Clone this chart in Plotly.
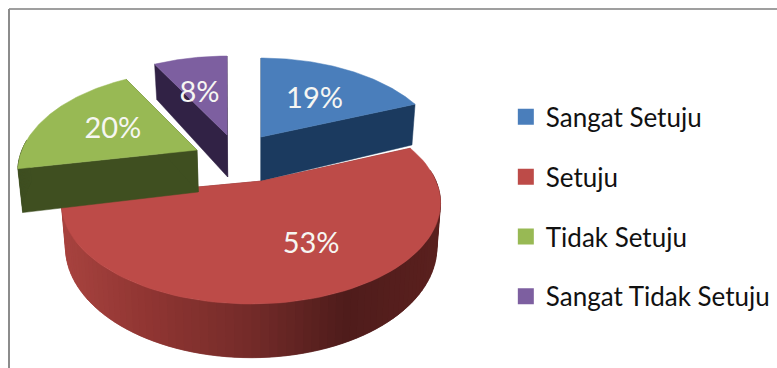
import numpy as np
import plotly.graph_objects as go

# Survey shares, drawn clockwise from twelve o'clock
categories = ["Sangat Setuju", "Setuju", "Tidak Setuju", "Sangat Tidak Setuju"]
values = [19, 53, 20, 8]
top_colors = ["#4a7ebb", "#bd4b48", "#98b954", "#7d5fa0"]
wall_colors = ["#1b3a5f", "#7a2d2b", "#3f4f20", "#312245"]

# Scene geometry, in canvas pixels
WIDTH, HEIGHT = 777, 368
TILT = 96.2         # vertical radius scale of the tilted disc
PERSP = 0.218       # foreshortening towards the back of the disc
RADIUS = [179, 185, 175, 179]
THICK = [44, 42, 42, 42]   # extrusion height per slice
FOOT = 0.98         # the lower rim sits slightly further from the camera
VANISH_X = 260
apex_x = [261, 262, 197, 227]
apex_y = [137, 181, 150, 135]
rim_x = [261, 251, 197, 227]   # centre the rim arc is swept about
label_radius = [0.54, 0.55, 0.58, 0.62]
label_nudge = [(4, 3), (28, 7), (3, 3), (-3, 11)]


def rim(angle, radius, cx, cy, thick, scale=1.0):
    """Project a point of the unit disc (clockwise angle, scale) to the canvas."""
    u, v = scale * np.sin(angle), -scale * np.cos(angle)
    d = 1 - PERSP * v
    return cx + radius * u / d, cy + TILT * v / d, thick / d


def foot(x, y, h):
    return VANISH_X + (x - VANISH_X) * FOOT, y + h


def polygon(xs, ys, color):
    return go.Scatter(x=list(xs), y=list(ys), mode="lines", fill="toself", fillcolor=color,
                      line=dict(color=color, width=0.5), hoverinfo="skip", showlegend=False)


def blend(a, b, t):
    ca = [int(a[i:i + 2], 16) for i in (1, 3, 5)]
    cb = [int(b[i:i + 2], 16) for i in (1, 3, 5)]
    return "rgb(%d,%d,%d)" % tuple(round(p + (q - p) * t) for p, q in zip(ca, cb))


def red_shade(x):
    # Lighting along the round wall of the large slice: lit on the left, dark at right
    stops = [(60, "#a8433f"), (150, "#8f3532"), (250, "#742b29"), (345, "#4f1c1b"), (441, "#5a201e")]
    for (x0, c0), (x1, c1) in zip(stops, stops[1:]):
        if x <= x1:
            return blend(c0, c1, max(0, (x - x0) / (x1 - x0)))
    return stops[-1][1]


edges = np.cumsum([0] + values) / sum(values) * 2 * np.pi
fig = go.Figure()
labels = []

# Painted back to front so the near slices overlap the far ones
for i in [0, 3, 1, 2]:
    a0, a1 = edges[i], edges[i + 1]
    ts = np.linspace(a0, a1, 90)
    xs, ys, hs = rim(ts, RADIUS[i], rim_x[i], apex_y[i], THICK[i])
    ax, ay = apex_x[i], apex_y[i]

    # Straight cut faces
    for k in (0, -1):
        fx, fy = foot(xs[k], ys[k], hs[k])
        gx, gy = foot(ax, ay, THICK[i])
        fig.add_trace(polygon([ax, xs[k], fx, gx, ax], [ay, ys[k], fy, gy, ay], wall_colors[i]))

    # Round outer wall; each strip reaches under the next so no seams show
    for j in range(len(ts) - 1):
        if np.cos((ts[j] + ts[j + 1]) / 2) > 0.1:
            continue
        e = min(j + 2, len(ts) - 1)
        bx0, by0 = foot(xs[j], ys[j], hs[j])
        bx1, by1 = foot(xs[e], ys[e], hs[e])
        color = red_shade((xs[j] + xs[j + 1]) / 2) if i == 1 else wall_colors[i]
        fig.add_trace(polygon([xs[j], xs[e], bx1, bx0], [ys[j], ys[e], by1, by0], color))

    # Top face
    fig.add_trace(polygon([ax, *xs, ax], [ay, *ys, ay], top_colors[i]))

    mid = (a0 + a1) / 2
    lx, ly, _ = rim(mid, RADIUS[i], rim_x[i], apex_y[i], THICK[i], label_radius[i])
    labels.append((lx + label_nudge[i][0], ly + label_nudge[i][1], f"{values[i]}%"))

fig.add_trace(go.Scatter(x=[p[0] for p in labels], y=[p[1] for p in labels],
                         text=[p[2] for p in labels], mode="text", hoverinfo="skip", showlegend=False,
                         textfont=dict(family="Lato", size=29, color="#f6f6f2")))

# Legend entries
for name, color in zip(categories, top_colors):
    fig.add_trace(go.Scatter(x=[None], y=[None], mode="markers", name=name, legendgroup=name,
                             marker=dict(symbol="square", size=16, color=color)))

fig.update_layout(
    width=WIDTH, height=HEIGHT, margin=dict(l=0, r=0, t=0, b=0),
    paper_bgcolor="white", plot_bgcolor="white",
    xaxis=dict(range=[0, WIDTH], visible=False, fixedrange=True),
    yaxis=dict(range=[HEIGHT, 0], visible=False, fixedrange=True),
    legend=dict(x=0.651, y=0.746, xanchor="left", yanchor="top", tracegroupgap=23,
                font=dict(family="Lato", size=26, color="#111111"), bgcolor="rgba(0,0,0,0)",
                itemclick=False, itemdoubleclick=False),
    shapes=[
        dict(type="line", x0=9, x1=WIDTH, y0=9, y1=9, line=dict(color="#7f7f7f", width=1.5)),
        dict(type="line", x0=9, x1=9, y0=9, y1=HEIGHT, line=dict(color="#8c8c8c", width=2)),
    ],
)

fig.write_html("out.html", config=dict(displayModeBar=False))
